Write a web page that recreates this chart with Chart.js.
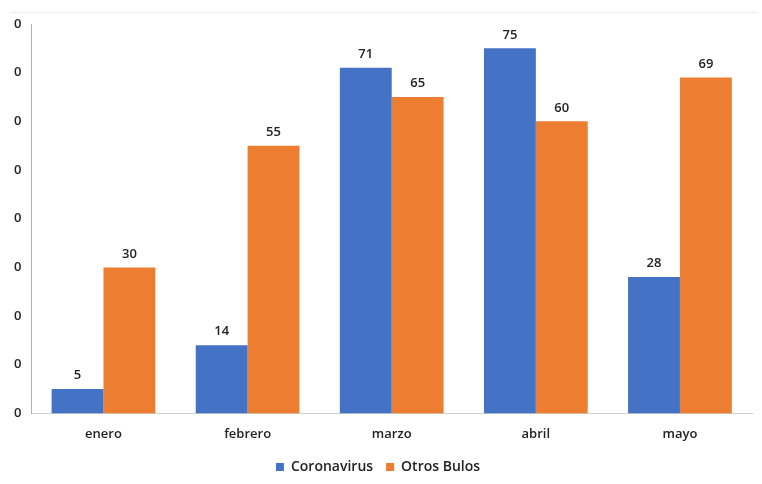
<!DOCTYPE html>
<html>
<head>
<meta charset="utf-8">
<script src="https://cdn.jsdelivr.net/npm/chart.js@4/dist/chart.umd.min.js"></script>
<style>
	html, body { margin: 0; padding: 0; background: #fff; }
	#wrap { position: relative; width: 762px; height: 484px; }
	#topline { position: absolute; left: 10px; right: 4px; top: 12px; border-top: 1px solid #f0f0f0; }
	canvas { position: absolute; left: 0; top: 0; }
</style>
</head>
<body>
<div id="wrap">
	<div id="topline"></div>
	<canvas id="chart" width="762" height="484"></canvas>
</div>
<script>
'use strict';

const months		= ['enero', 'febrero', 'marzo', 'abril', 'mayo'];
const coronavirus	= [5, 14, 71, 75, 28];
const otrosBulos	= [30, 55, 65, 60, 69];
const yMax			= 80;
const yStep			= 10;

const FONT = '"Open Sans", "Noto Sans", sans-serif';

// value labels above each bar
const barLabels = {
	id: 'barLabels',
	afterDatasetsDraw(chart) {
		const ctx = chart.ctx;
		ctx.save();
		ctx.font = '600 13px ' + FONT;
		ctx.fillStyle = '#222';
		ctx.textAlign = 'center';
		ctx.textBaseline = 'bottom';
		chart.data.datasets.forEach(function (ds, i) {
			chart.getDatasetMeta(i).data.forEach(function (bar, j) {
				ctx.fillText(ds.data[j], bar.x, bar.y - 7);
			});
		});
		ctx.restore();
	}
};

const ctx = document.getElementById('chart').getContext('2d');

new Chart(ctx, {
	type: 'bar',
	data: {
		labels: months,
		datasets: [{
			label: 'Coronavirus',
			data: coronavirus,
			backgroundColor: '#4472C4'
		}, {
			label: 'Otros Bulos',
			data: otrosBulos,
			backgroundColor: '#ED7D31'
		}]
	},
	options: {
		responsive: false,
		animation: false,
		layout: { padding: { left: 4, right: 10, top: 24, bottom: 0 } },
		datasets: {
			bar: { categoryPercentage: 0.72, barPercentage: 1.0 }
		},
		scales: {
			x: {
				grid: { display: false },
				border: { color: '#d0d0d0' },
				ticks: {
					color: '#222',
					font: { family: FONT, size: 13, weight: '600' },
					padding: 5
				}
			},
			y: {
				min: 0,
				max: yMax,
				grid: { display: false, drawTicks: false },
				border: { color: '#b0b0b0' },
				ticks: {
					stepSize: yStep,
					color: '#222',
					padding: 10,
					font: { family: FONT, size: 13, weight: '600' },
					// labels are cut at the left edge, only the last digit shows
					callback: function (v) { return String(v).slice(-1); }
				}
			}
		},
		plugins: {
			legend: {
				position: 'bottom',
				labels: {
					boxWidth: 8,
					boxHeight: 8,
					padding: 13,
					color: '#222',
					font: { family: FONT, size: 14, weight: '600' }
				}
			},
			tooltip: { enabled: false }
		}
	},
	plugins: [barLabels]
});
</script>
</body>
</html>
